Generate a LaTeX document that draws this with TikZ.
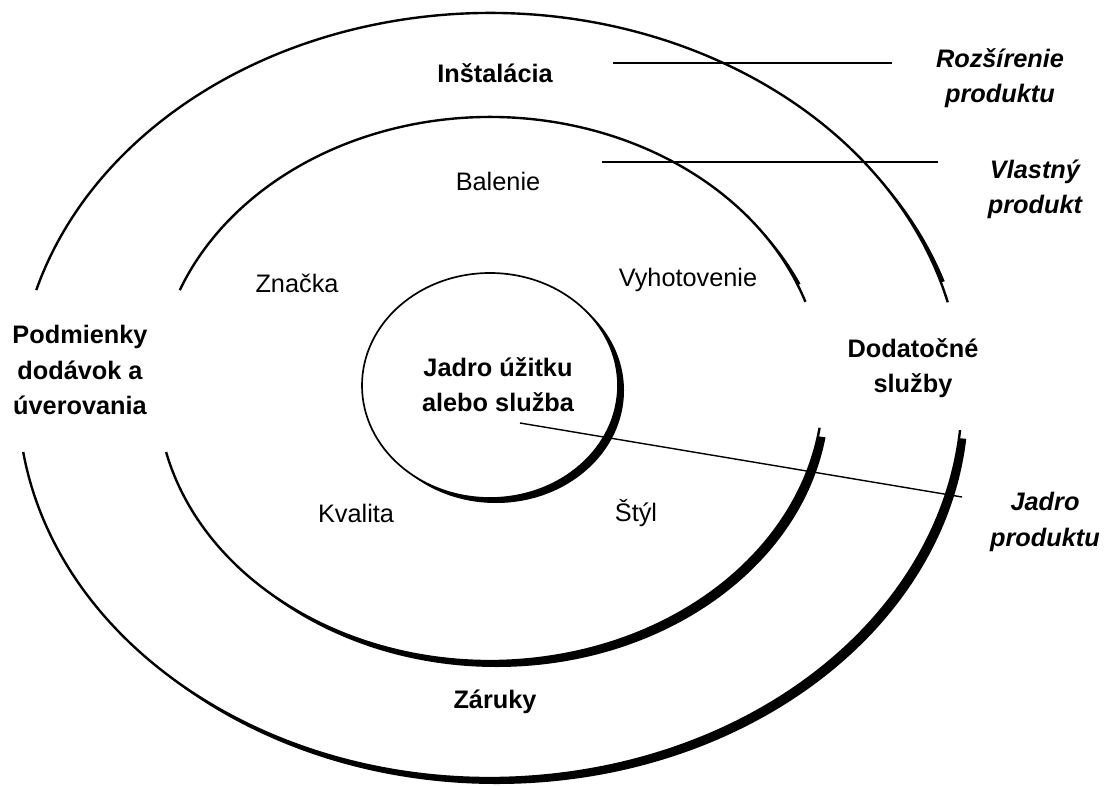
\documentclass[tikz,border=0pt]{standalone}
\usepackage{fontspec}
\setmainfont{Liberation Sans}
\newcommand{\lblfont}{\fontsize{18}{25}\selectfont}
\tikzset{
  ring/.style={line width=1.7pt},
  lead/.style={line width=1pt},
  plain/.style={font=\lblfont, inner sep=1pt},
  strong/.style={font=\lblfont\bfseries, align=center, inner sep=1pt},
  tag/.style={font=\lblfont\bfseries\itshape, align=center, inner sep=1pt}
}
\begin{document}
\begin{tikzpicture}[x=0.025cm, y=0.025cm, line join=round]
		\useasboundingbox (0,0) rectangle (1115,785);
		% outer and middle ring, open at both sides
		\foreach \cy/\ra/\rb/\angA/\angB/\angC/\angD in {389.5/472/382.5/14.1/164/188.5/354.8, 396/333/272/18.7/158.7/193.4/351.8}{
			\begin{scope}[shift={(490,\cy)}]
				\draw[ring] ({\ra*cos(\angA)},{\rb*sin(\angA)}) arc[start angle=\angA, end angle=\angB, x radius=\ra, y radius=\rb];
				\draw[ring] ({\ra*cos(\angC)},{\rb*sin(\angC)}) arc[start angle=\angC, end angle=\angD, x radius=\ra, y radius=\rb];
				% heavier lower right edge
				\begin{scope}
					\clip (0,0) -- (\angA:3000) -- (90:3000) -- (\angB:3000) -- cycle
						(0,0) -- (\angC:3000) -- (270:3000) -- (\angD:3000) -- cycle;
					\clip (6.5,-6) ellipse[x radius=\ra, y radius=\rb];
					\fill[even odd rule] (-1000,-1000) rectangle (1000,1000) (0,0) ellipse[x radius=\ra, y radius=\rb];
				\end{scope}
			\end{scope}
		}
		% core
		\begin{scope}[shift={(490,399.5)}]
			\draw[line width=1.2pt] (0,0) ellipse[x radius=128, y radius=112.5];
			\begin{scope}
				\clip (6,-5) ellipse[x radius=128, y radius=112.5];
				\fill[even odd rule] (-500,-500) rectangle (500,500) (0,0) ellipse[x radius=128, y radius=112.5];
			\end{scope}
		\end{scope}
		% labels in the rings
		\node[strong] (instal) at (495,712) {Inštalácia};
		\node[plain] (balenie) at (498,604) {Balenie};
		\node[plain] (znacka) at (297,502) {Značka};
		\node[plain] (vyhot) at (688,505) {Vyhotovenie};
		\node[strong] (podm) at (80,415) {Podmienky\\dodávok a\\úverovania};
		\node[strong] (dodat) at (913,417) {Dodatočné\\služby};
		\node[strong] (jadro) at (498,400) {Jadro úžitku\\alebo služba};
		\node[plain] (kval) at (356,272) {Kvalita};
		\node[plain] (styl) at (636,272) {Štýl};
		\node[strong] (zaruky) at (495,83) {Záruky};
		% level names
		\node[tag] (rozs) at (1000,707) {Rozšírenie\\produktu};
		\node[tag] (vlast) at (1035,596) {Vlastný\\produkt};
		\node[tag] (jprod) at (1045,263) {Jadro\\produktu};
		\coordinate (rozA) at (613,722);
		\coordinate (rozB) at (892,722);
		\coordinate (vlA) at (602,623);
		\coordinate (vlB) at (938,623);
		\coordinate (jaA) at (520,362);
		\coordinate (jaB) at (962,288);
		\draw[lead] (rozA) -- (rozB);
		\draw[lead] (vlA) -- (vlB);
		\draw[lead] (jaA) -- (jaB);
	\end{tikzpicture}
\end{document}
